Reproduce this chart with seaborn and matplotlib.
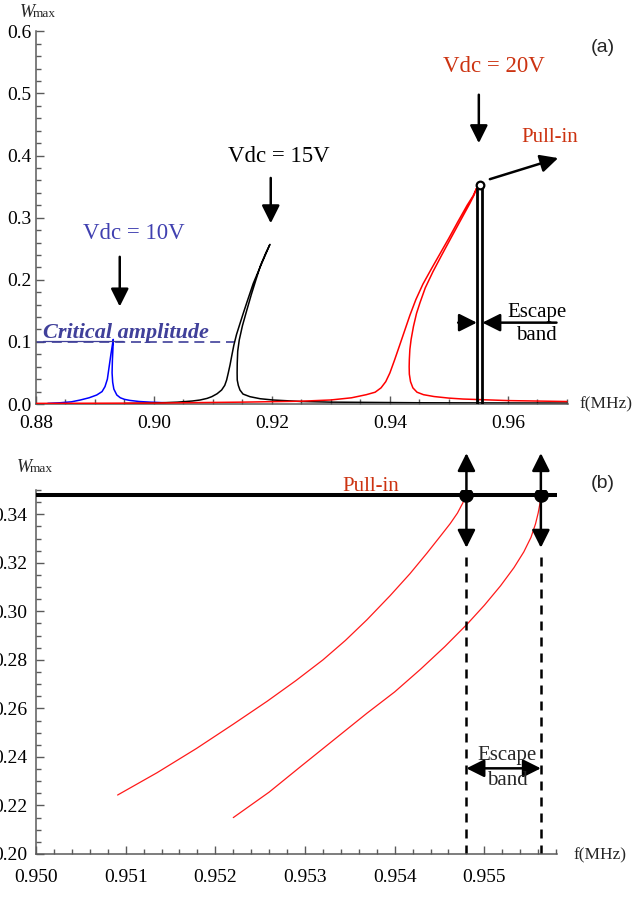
"""
Frequency response of the resonator near pull-in, two panels:
(a) W_max vs f for three DC voltages, (b) zoom on the escape band at 20 V
"""

import numpy as np
import matplotlib
matplotlib.use("Agg")
import matplotlib.pyplot as plt
import seaborn as sns
from matplotlib.ticker import MultipleLocator, FormatStrFormatter

# Panel (a) curves, each listed along its path (rising branch, then back down)
blue_f = [0.8820, 0.8841, 0.8860, 0.8875, 0.8890, 0.8903, 0.8912, 0.8917,
          0.8921, 0.8924, 0.8927, 0.8929, 0.8931,
          0.89305, 0.89295, 0.8929, 0.8930, 0.8932, 0.8937, 0.8943, 0.8950,
          0.8959, 0.8975, 0.8993, 0.9020]
blue_w = [0.001, 0.002, 0.0035, 0.0064, 0.010, 0.0145, 0.020, 0.028,
          0.040, 0.060, 0.080, 0.092, 0.104,
          0.090, 0.070, 0.050, 0.035, 0.024, 0.0145, 0.010, 0.0075,
          0.0058, 0.004, 0.003, 0.002]

black_f = [0.8950, 0.9000, 0.9040, 0.9065, 0.9078, 0.9090, 0.9098, 0.9107,
           0.91147, 0.9120, 0.91232, 0.9126, 0.9129, 0.9132, 0.91355, 0.9140,
           0.9146, 0.91514, 0.9158, 0.91683, 0.9178, 0.9188, 0.91966,
           0.9190, 0.9181, 0.91729, 0.9165, 0.91571, 0.9150, 0.91446, 0.9142,
           0.91412, 0.9141, 0.91412, 0.9143, 0.91458, 0.9151, 0.91627, 0.9180,
           0.92022, 0.9250, 0.9300, 0.9450, 0.9700]
black_w = [0.0008, 0.0015, 0.003, 0.0048, 0.0064, 0.009, 0.0118, 0.0165,
           0.0225, 0.030, 0.0386, 0.050, 0.063, 0.078, 0.095, 0.112,
           0.130, 0.146, 0.165, 0.194, 0.216, 0.238, 0.257,
           0.244, 0.224, 0.200, 0.176, 0.150, 0.126, 0.103, 0.085,
           0.0655, 0.050, 0.0386, 0.030, 0.0225, 0.016, 0.0118, 0.0085,
           0.0064, 0.004, 0.003, 0.002, 0.0015]

red_f = [0.8800, 0.9000, 0.9150, 0.9250, 0.9300, 0.9335, 0.9360, 0.9375,
         0.9385, 0.9393, 0.9400, 0.9408, 0.9416, 0.9425, 0.9434, 0.9444,
         0.9456, 0.9470, 0.9485, 0.9500, 0.9515, 0.9531, 0.9541, 0.95468,
         0.9543, 0.95356, 0.9520, 0.95045, 0.9488, 0.9473, 0.9460, 0.9451,
         0.94452, 0.9440, 0.9436, 0.94339, 0.9433, 0.94327, 0.9433, 0.9435,
         0.9439, 0.9446, 0.9457, 0.9475, 0.9500, 0.9524, 0.9600, 0.9700]
red_w = [0.001, 0.0015, 0.003, 0.0045, 0.0065, 0.010, 0.015, 0.019,
         0.026, 0.036, 0.050, 0.071, 0.093, 0.118, 0.143, 0.168,
         0.193, 0.217, 0.242, 0.267, 0.293, 0.320, 0.335, 0.347,
         0.337, 0.323, 0.296, 0.269, 0.240, 0.213, 0.187, 0.163,
         0.146, 0.125, 0.104, 0.088, 0.072, 0.060, 0.048, 0.036,
         0.026, 0.019, 0.015, 0.012, 0.0095, 0.008, 0.0055, 0.004]

# Panel (b) curves: two upper branches ending at the pull-in level
left_f = [0.95091, 0.95135, 0.95179, 0.95220, 0.95258, 0.95290, 0.95320,
          0.95345, 0.95369, 0.95395, 0.95417, 0.95436, 0.95451, 0.95462,
          0.95470, 0.95476, 0.95480]
left_w = [0.2243, 0.2335, 0.2435, 0.2535, 0.2630, 0.2715, 0.2800,
          0.2880, 0.2965, 0.3065, 0.3155, 0.3240, 0.3310, 0.3362,
          0.3405, 0.3447, 0.3480]
right_f = [0.95220, 0.95260, 0.95295, 0.95332, 0.95369, 0.95400, 0.95429,
           0.95456, 0.95481, 0.95500, 0.95518, 0.95533, 0.95544, 0.95552,
           0.95557, 0.95560, 0.95562, 0.95563]
right_w = [0.2150, 0.2255, 0.2360, 0.2470, 0.2580, 0.2668, 0.2762,
           0.2855, 0.2948, 0.3025, 0.3105, 0.3180, 0.3245, 0.3305,
           0.3360, 0.3405, 0.3445, 0.3480]

escape_band = [0.95480, 0.95563]
pull_in_w = 0.348
critical_w = 0.10

# Styling
sns.set_theme(style="ticks")
plt.rcParams["font.family"] = ["Liberation Serif", "DejaVu Serif"]

BLUE_TXT = "#4040b0"
CRIT = "#40409a"
ORANGE = "#cc3311"
AXC = "#5a5a5a"


def style_axes(ax, xmaj, xmin, ymaj, ymin, xfmt, yfmt, xpad, ypad):
    for s in ["top", "right"]:
        ax.spines[s].set_visible(False)
    for s in ["left", "bottom"]:
        ax.spines[s].set_color(AXC)
        ax.spines[s].set_linewidth(1.1)
    ax.xaxis.set_major_locator(MultipleLocator(xmaj))
    ax.xaxis.set_minor_locator(MultipleLocator(xmin))
    ax.yaxis.set_major_locator(MultipleLocator(ymaj))
    ax.yaxis.set_minor_locator(MultipleLocator(ymin))
    ax.xaxis.set_major_formatter(FormatStrFormatter(xfmt))
    ax.yaxis.set_major_formatter(FormatStrFormatter(yfmt))
    ax.tick_params(which="both", direction="in", color=AXC, width=1,
                   labelsize=14, labelcolor="black")
    ax.tick_params(which="major", length=6)
    ax.tick_params(which="minor", length=3.5)
    ax.tick_params(axis="x", which="major", pad=xpad)
    ax.tick_params(axis="y", which="major", pad=ypad)
    ax.set_xlabel("")
    ax.set_ylabel("")
    ax.patch.set_alpha(0)


def arrow(ax, tail, tip, style="-|>", lw=1.8, scale=12):
    ax.annotate("", xy=tip, xytext=tail, annotation_clip=False,
                arrowprops=dict(arrowstyle=f"{style},head_length=0.9,head_width=0.45",
                                color="black", lw=lw, shrinkA=0, shrinkB=0,
                                mutation_scale=scale, clip_on=False))


fig = plt.figure(figsize=(6.34, 9.01), dpi=100)
W, H = 634, 901
ax_a = fig.add_axes([36 / W, 1 - 404 / H, (568 - 36) / W, (404 - 31) / H])
ax_b = fig.add_axes([36 / W, 1 - 854 / H, (557 - 36) / W, (854 - 490) / H])

# ---- panel (a) ----
sns.lineplot(x=blue_f, y=blue_w, sort=False, estimator=None, color="#0000ff",
             lw=1.1, ax=ax_a)
sns.lineplot(x=black_f, y=black_w, sort=False, estimator=None, color="black",
             lw=1.1, ax=ax_a)
sns.lineplot(x=red_f, y=red_w, sort=False, estimator=None, color="#ff0000",
             lw=1.1, ax=ax_a, zorder=3)

for f in escape_band:
    ax_a.plot([f, f], [0, pull_in_w], color="black", lw=2.0, zorder=4)
ax_a.plot(np.mean(escape_band), pull_in_w + 0.004, "o", ms=5.5, mfc="white",
          mec="black", mew=1.6, zorder=5)

ax_a.plot([0.88, 0.9135], [critical_w, critical_w], color=CRIT, lw=1.2,
          ls=(0, (6, 3.5)))
ax_a.plot([0.8812, 0.8947], [critical_w + 0.002] * 2, color=CRIT, lw=0.9)
ax_a.text(0.8812, 0.107, "Critical amplitude", color=CRIT, fontsize=16,
          fontweight="bold", fontstyle="italic", va="baseline")

ax_a.text(0.88802, 0.2657, "Vdc = 10V", color=BLUE_TXT, fontsize=16.5, va="baseline")
ax_a.text(0.91259, 0.390, "Vdc = 15V", color="black", fontsize=16.5, va="baseline")
ax_a.text(0.94893, 0.535, "Vdc = 20V", color=ORANGE, fontsize=16.5, va="baseline")
ax_a.text(0.96232, 0.4224, "Pull-in", color=ORANGE, fontsize=15, va="baseline")
ax_a.text(0.96486, 0.1406, "Escape", color="black", fontsize=15, ha="center", va="baseline")
ax_a.text(0.96486, 0.1031, "band", color="black", fontsize=15, ha="center", va="baseline")

arrow(ax_a, (0.8942, 0.237), (0.8942, 0.157))
arrow(ax_a, (0.9198, 0.364), (0.9198, 0.291))
arrow(ax_a, (0.95508, 0.498), (0.95508, 0.420))
arrow(ax_a, (0.95695, 0.362), (0.96853, 0.396))
arrow(ax_a, (0.95158, 0.131), (0.95475, 0.131))
arrow(ax_a, (0.96825, 0.131), (0.95568, 0.131))

ax_a.set_xlim(0.88, 0.9702)
ax_a.set_ylim(0, 0.6006)
style_axes(ax_a, 0.02, 0.005, 0.1, 0.02, "%.2f", "%.1f", xpad=8, ypad=3)

# ---- panel (b) ----
ax_b.axhline(pull_in_w, color="black", lw=2.9, zorder=3)
sns.lineplot(x=left_f, y=left_w, sort=False, estimator=None, color="#ff1a1a",
             lw=0.9, ax=ax_b)
sns.lineplot(x=right_f, y=right_w, sort=False, estimator=None, color="#ff1a1a",
             lw=0.9, ax=ax_b)
for f in escape_band:
    ax_b.plot([f, f], [0.2, 0.3250], color="black", lw=1.8, ls=(0, (3.6, 2.8)))
    arrow(ax_b, (f, pull_in_w), (f, 0.3652))
    arrow(ax_b, (f, pull_in_w), (f, 0.3262))
ax_b.plot(escape_band, [pull_in_w] * 2, "o", ms=9.5, color="black", zorder=5)

arrow(ax_b, (escape_band[0], 0.2353), (escape_band[1], 0.2353), style="<|-|>")
ax_b.text(0.955253, 0.2388, "Escape", fontsize=15, ha="center", va="baseline")
ax_b.text(0.955253, 0.2285, "band", fontsize=15, ha="center", va="baseline")
ax_b.text(0.953412, 0.3494, "Pull-in", color=ORANGE, fontsize=15, va="baseline")

ax_b.set_xlim(0.950, 0.95581)
ax_b.set_ylim(0.20, 0.35)
style_axes(ax_b, 0.001, 0.0002, 0.02, 0.005, "%.3f", "%.2f", xpad=11, ypad=6)

# axis captions, panel tags
for ytop, xw in [(17, 20), (472, 17)]:
    fig.text(xw / W, 1 - ytop / H, "W", fontsize=13, fontstyle="italic", va="baseline")
    fig.text((xw + 13) / W, 1 - ytop / H, "max", fontsize=9.5, va="baseline")
fig.text(579 / W, 1 - 404 / H, "f(MHz)", fontsize=12.5, va="center")
fig.text(573 / W, 1 - 855 / H, "f(MHz)", fontsize=12.5, va="center")
fig.text(603 / W, 1 - 47 / H, "(a)", fontsize=14, family="Liberation Sans",
         ha="center", va="center")
fig.text(603 / W, 1 - 483 / H, "(b)", fontsize=14, family="Liberation Sans",
         ha="center", va="center")

fig.savefig("out.png", dpi=100)
